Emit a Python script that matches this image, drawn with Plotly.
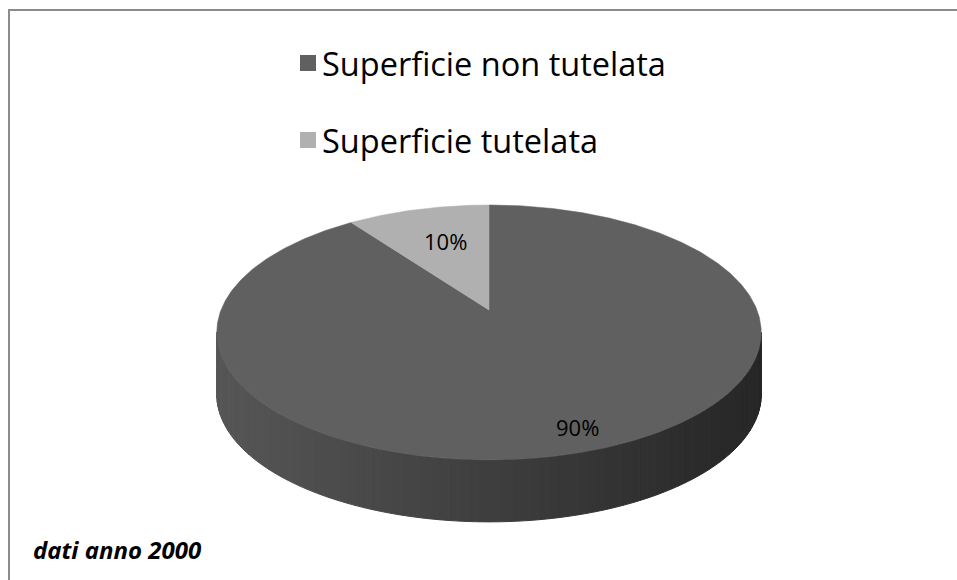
import numpy as np
import plotly.graph_objects as go

labels = ["Superficie non tutelata", "Superficie tutelata"]
values = [90, 10]
colors = ["#606060", "#b0b0b0"]
footnote = "dati anno 2000"

W, H = 957, 580
# simple perspective projection of a tilted disc
cx, cy = 489, 310          # projected centre of the disc
A, B, k = 268, 123.5, 0.176
depth = 62

fig = go.Figure()
total = float(sum(values))

# start at top (far side), going clockwise
bounds = np.concatenate([[0], np.cumsum(values)]) / total * 360.0

def pt(phi_deg, r=1.0, dy=0.0):
    p = np.radians(phi_deg)
    u, v = r * np.sin(p), r * np.cos(p)
    d = 1.0 + k * v
    return cx + A * u / d, cy - B * v / d + dy

# visible side silhouette
phi_s = np.degrees(np.arccos(-k))
n = 90
phis = np.linspace(phi_s, 360 - phi_s, n + 1)
xl, _ = pt(360 - phi_s)
xr, _ = pt(phi_s)
for i in range(n):
    p0, p1 = phis[i], phis[i + 1]
    ts = np.linspace(p0, p1, 4)
    xs_top, ys_top = pt(ts)
    xs_bot, ys_bot = pt(ts[::-1], dy=depth)
    xs = np.concatenate([xs_top, xs_bot, xs_top[:1]])
    ys = np.concatenate([ys_top, ys_bot, ys_top[:1]])
    xm = (xs_top.mean() - xl) / (xr - xl)
    v = int(round(0x56 - (0x56 - 0x26) * xm))
    col = "#%02x%02x%02x" % (v, v, v)
    fig.add_trace(go.Scatter(x=xs, y=ys, mode="lines", fill="toself",
                             fillcolor=col, line=dict(color=col, width=1),
                             hoverinfo="skip", showlegend=False))

# top faces
for i, (lab, val) in enumerate(zip(labels, values)):
    s, e = bounds[i], bounds[i + 1]
    ts = np.linspace(s, e, max(int((e - s) * 2), 4))
    ax_, ay_ = pt(ts)
    xs = np.concatenate([[cx], ax_, [cx]])
    ys = np.concatenate([[cy], ay_, [cy]])
    fig.add_trace(go.Scatter(x=xs, y=ys, mode="lines", fill="toself",
                             fillcolor=colors[i], line=dict(color=colors[i], width=0.5),
                             hoverinfo="skip", showlegend=False, name=lab))

# percent labels
for i, val in enumerate(values):
    mid = (bounds[i] + bounds[i + 1]) / 2.0
    x, y = pt(mid, r=0.78)
    fig.add_annotation(x=x, y=y, xref="x", yref="y",
                       text="%d%%" % round(val / total * 100), showarrow=False,
                       xanchor="center", yanchor="middle", xshift=14, yshift=-12,
                       font=dict(family="Open Sans", size=22, color="#000000"))

# legend
leg_y = [63, 140]
fig.add_trace(go.Scatter(x=[308] * len(labels), y=leg_y, mode="markers",
                         marker=dict(symbol="square", size=16, color=colors,
                                     line=dict(width=0)),
                         hoverinfo="skip", showlegend=False))
for lab, y in zip(labels, leg_y):
    fig.add_annotation(x=320, y=y, xref="x", yref="y", text=lab, showarrow=False,
                       xanchor="left", yanchor="middle",
                       font=dict(family="Open Sans", size=32.5, color="#000000"))

fig.add_annotation(x=31, y=549, xref="x", yref="y", text="<b><i>%s</i></b>" % footnote,
                   showarrow=False, xanchor="left", yanchor="middle",
                   font=dict(family="Open Sans", size=24, color="#000000"))

# chart-area border (only top and left edges fall inside the picture)
fig.add_trace(go.Scatter(x=[9, 9, W + 20], y=[H + 20, 10, 10], mode="lines",
                         line=dict(color="#8c8c8c", width=2),
                         hoverinfo="skip", showlegend=False, cliponaxis=True))

fig.update_layout(width=W, height=H, margin=dict(l=0, r=0, t=0, b=0),
                  paper_bgcolor="white", plot_bgcolor="white", autosize=False,
                  xaxis=dict(range=[0, W], visible=False, fixedrange=True),
                  yaxis=dict(range=[H, 0], visible=False, fixedrange=True))

fig.write_html("out.html", config={"displayModeBar": False},
               post_script="document.documentElement.style.margin='0px';document.documentElement.style.overflow='hidden';document.body.style.margin='0px';document.body.style.overflow='hidden';")
